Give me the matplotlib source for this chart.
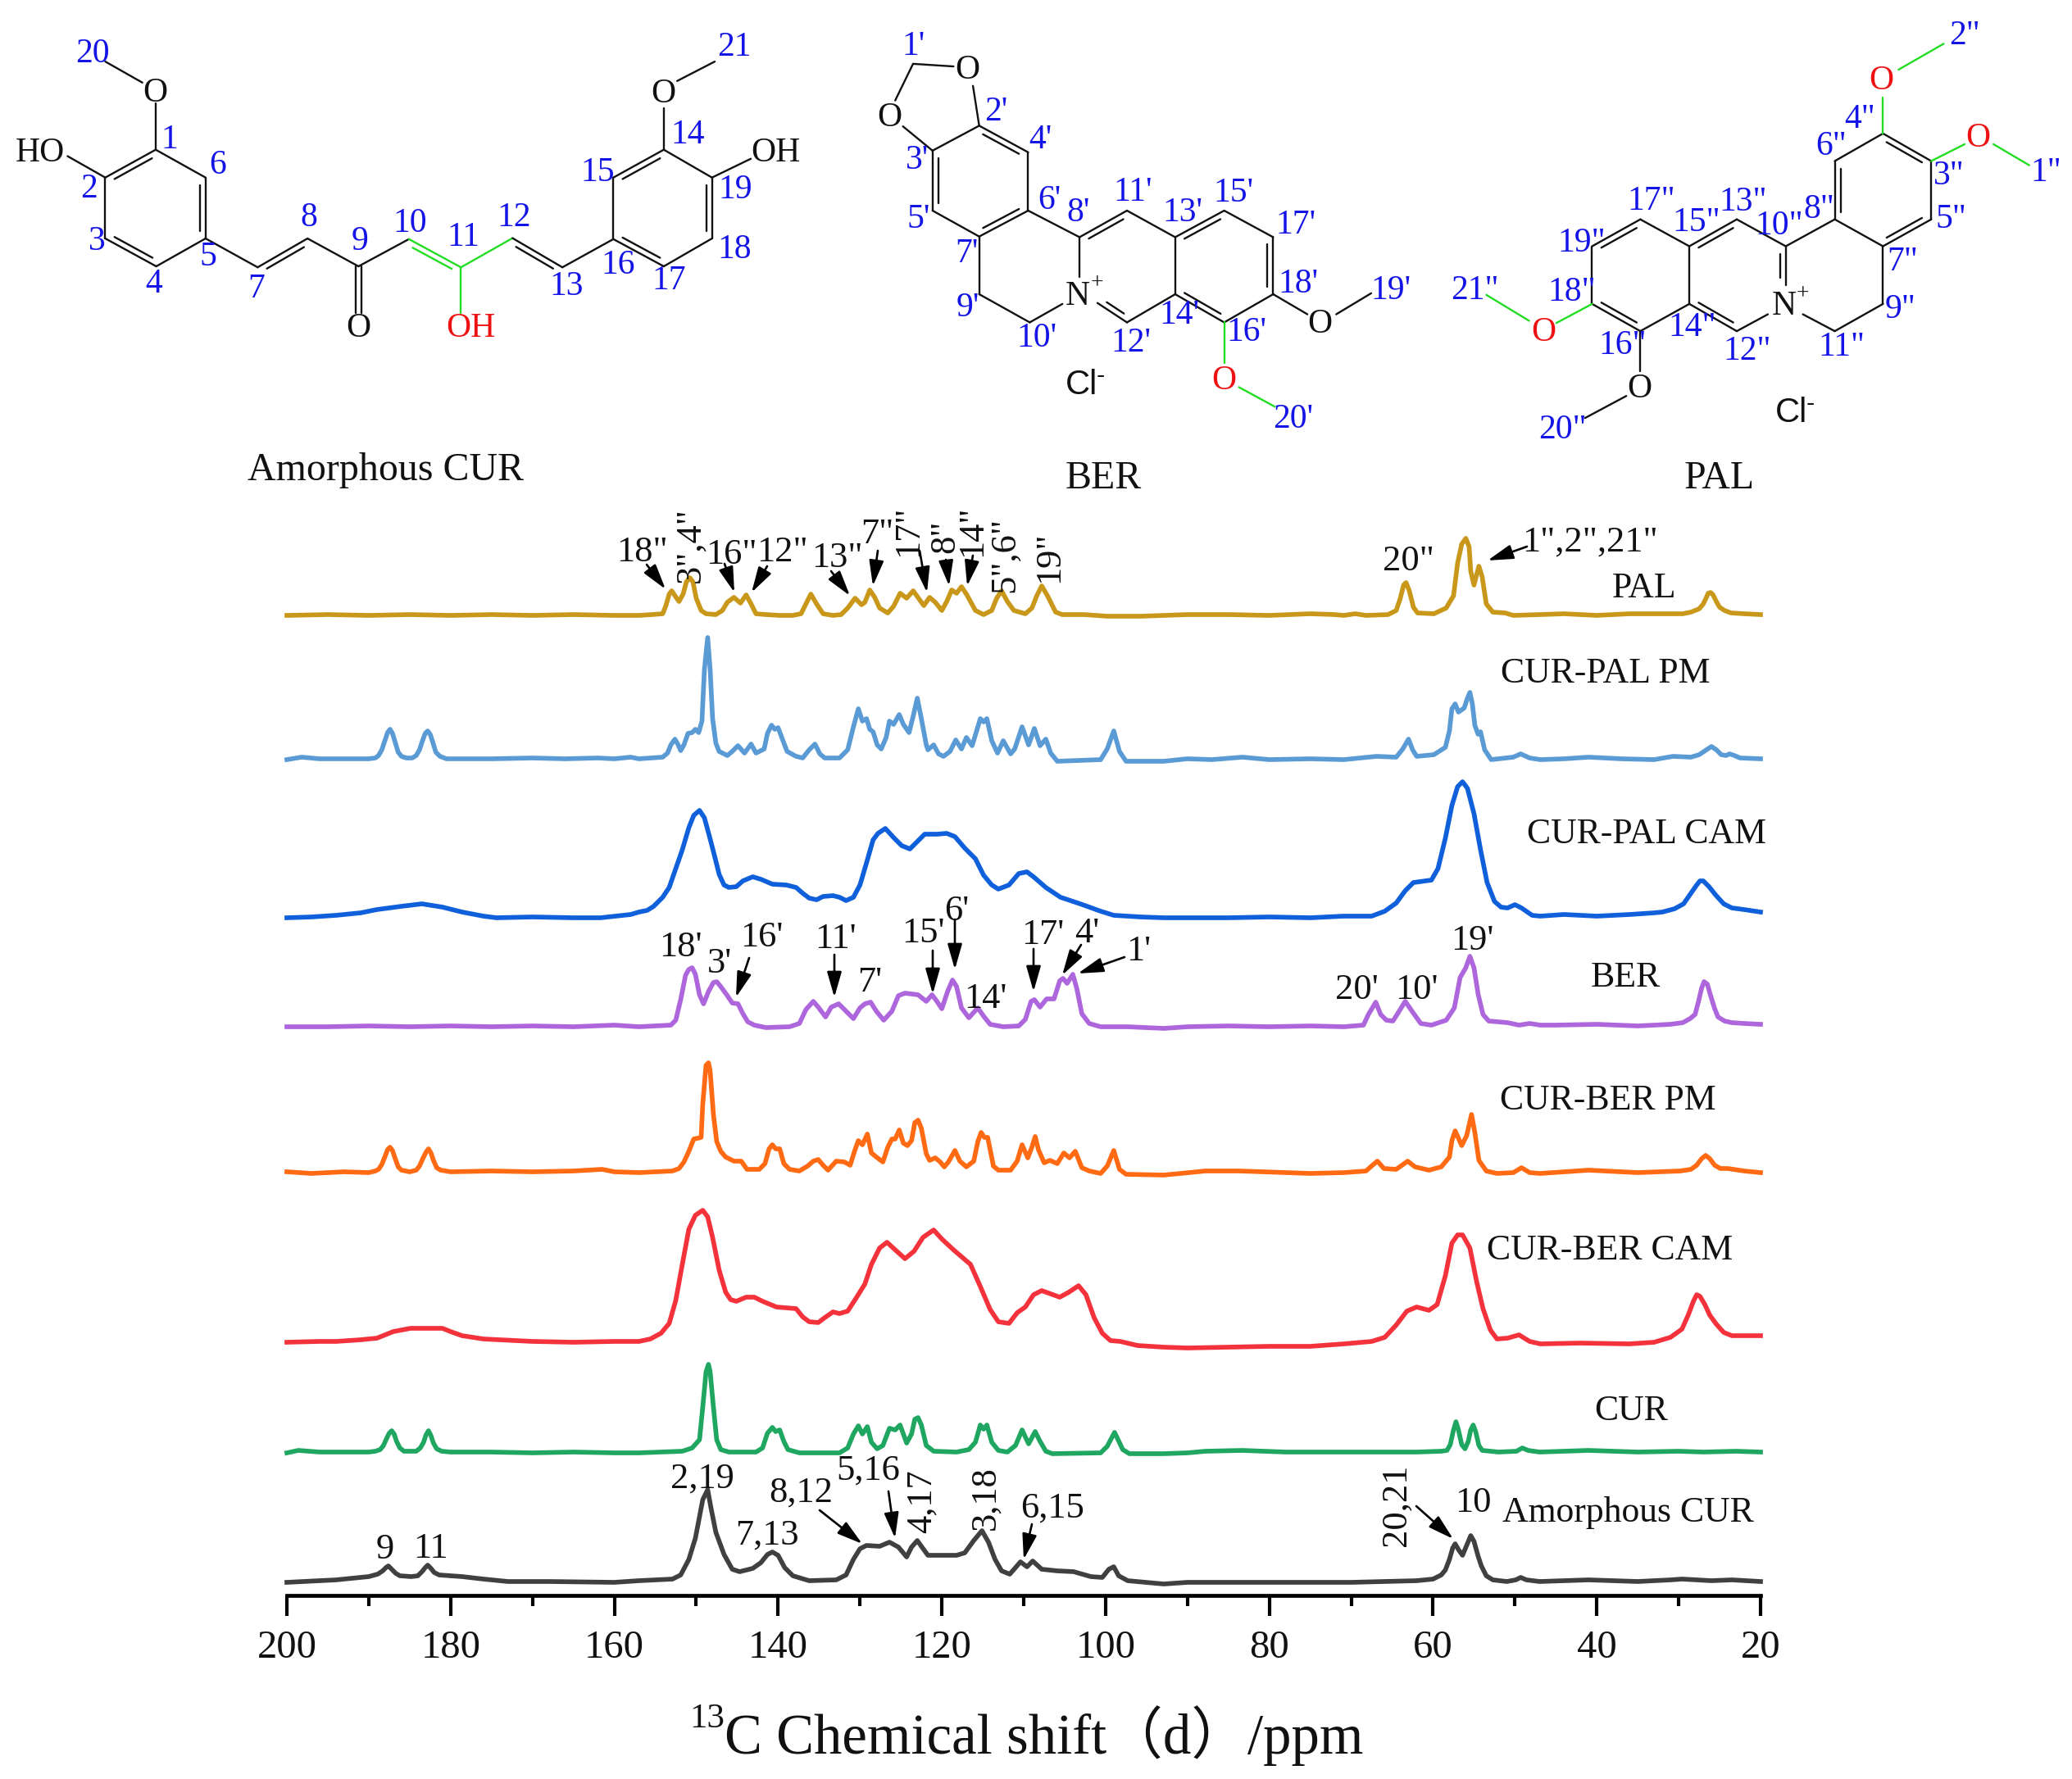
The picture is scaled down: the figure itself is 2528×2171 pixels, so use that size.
import matplotlib
matplotlib.use("Agg")
import matplotlib.pyplot as plt
import numpy as np

plt.rcParams['font.family'] = ['Liberation Serif', 'Noto Sans CJK SC', 'DejaVu Sans']

W, H = 2528, 2171
SERIF = ['Liberation Serif', 'Noto Sans CJK SC', 'DejaVu Sans']

# ---------- spectra: (ppm, intensity above the trace's own baseline) ----------
PAL = [(200,0),(195,1),(190,0),(185,1),(180,0),(175,1),(170,0),(165,1),(160,0),
 (157,0),(155.4,1),(154.1,2),(153.7,12),(153.3,26),(153,30),(152.6,24),(152.1,17),(151.6,26),(151.2,41),(150.8,46),(150.4,41),(150,21),(149.4,6),(148.8,2),(147.6,1),(146.8,6),(146.2,16),(145.4,22),(144.6,15),(143.9,25),(143.3,14),(142.7,2),(141.5,1),(139.8,0),(138.2,0),(137.2,2),(136.6,14),(136,26),(135.3,14),(134.5,2),(133.3,0),(132.3,1),(131.5,9),(130.6,21),(129.8,13),(129.4,16),(128.8,31),(128.2,22),(127.6,9),(126.6,3),(125.9,11),(125.1,27),(124.3,21),(123.5,30),(122.7,19),(122.2,12),(121.5,22),(120.8,16),(120,6),(119.4,17),(118.8,31),(118.2,27),(117.6,35),(117,26),(115.9,6),(114.9,1),(113.9,6),(113.3,21),(112.7,30),(112,17),(111.2,6),(109.8,2),(109,9),(108.4,24),(107.8,36),(107.1,24),(106.1,4),(105.3,1),(102.6,1),(99.8,-1),(95.7,-1),
 (90,1),(85,1),(80,0),(75,2),(72,1),(70.9,0),(69.5,2),(68.2,0),(65.5,1),(64.5,6),(64,21),(63.6,37),(63.3,40),(62.9,30),(62.4,10),(61.9,3),(59.9,2),(58.4,9),(57.5,24),(57,64),(56.5,87),(56,94),(55.6,84),(55.4,54),(55,37),(54.7,49),(54.4,60),(54,47),(53.5,14),(52.7,4),(51.2,3),(50.2,0),(46.9,1),
 (44,2),(40,0),(36,2),(32,2),(29.5,2),(28.5,4),(27.5,8),(27,14),(26.7,20),(26.4,27),(26.1,28),(25.8,25),(25.4,17),(25,10),(24.4,6),(23.6,3),(22,2),(20,1)]

CUR_PAL_PM = [(200,0),(198.2,3),(196,1),(194,1),(190,1),(189.2,2),(188.8,5),(188.4,12),(188,24),(187.7,33),(187.4,37),(187.1,32),(186.8,22),(186.4,9),(186,4),(185.4,2),(184.7,2),(184.2,5),(183.8,12),(183.4,24),(183.1,32),(182.8,35),(182.5,31),(182.2,22),(181.8,9),(181.3,4),(180.5,1),(179,1),(175,1),(170,2),(166,1),(162,2),(160,1),(158,3),
 (157,1),(154.1,3),(153.5,8),(153.1,18),(152.6,25),(152.2,18),(151.9,11),(151.5,18),(151,32),(150.5,33),(150.1,37),(149.7,33),(149.3,47),(149,110),(148.6,149),(148.3,110),(148,50),(147.6,20),(147.2,10),(146.2,5),(145.6,10),(144.9,17),(144.1,8),(143.3,19),(142.7,8),(141.7,13),(141.3,32),(140.8,42),(140.4,37),(140,39),(139.4,23),(138.9,10),(137.8,4),(137,2),(136.2,12),(135.5,19),(134.9,7),(134.3,2),(132.5,2),(131.5,12),(130.8,40),(130.2,62),(129.7,47),(129.2,50),(128.8,37),(128.4,34),(127.9,18),(127.4,13),(126.8,27),(126.4,47),(125.9,43),(125.2,55),(124.7,43),(124,33),(123.5,53),(123,75),(122.5,50),(121.9,18),(121.7,12),(121,18),(120.4,7),(119.8,4),(119,10),(118.3,24),(117.6,13),(117,27),(116.3,17),(115.7,37),(115.3,50),(114.9,46),(114.5,50),(113.9,23),(113.2,8),(112.5,23),(111.6,7),(111.1,13),(110.2,40),(109.4,18),(108.7,38),(108,17),(107.3,25),(106.7,8),(105.9,-2),(100.6,0),(99.8,13),(99,35),(98.3,10),(97.5,-2),(92.9,-2),
 (90,1),(87,0),(83.3,3),(80,0),(75,1),(70.9,0),(66.9,4),(64.5,3),(63.7,13),(63,25),(62.5,12),(62,4),(59.9,6),(58.5,15),(58,35),(57.7,62),(57.3,68),(56.9,58),(56.2,63),(55.8,75),(55.5,82),(55.2,68),(54.9,42),(54.5,31),(54.2,34),(53.7,12),(52.9,0),(50.2,3),(49.3,7),(48.2,2),(46.9,0),
 (44,1),(41,3),(37,1),(33,0),(30.7,4),(28.5,3),(27.5,6),(26.6,12),(26,16),(25.4,12),(24.8,6),(24.2,5),(23.8,7),(23.2,5),(22.5,2),(20,1)]

CUR_PAL_CAM = [(200,0),(197,1),(194,3),(191,6),(189,10),(186,14),(183.5,17),(181,13),(178.6,7),(176,2),(174.4,0),(170,1),(165,0),(161.7,0),(158,4),
 (157,7),(156,9),(155.2,14),(154.1,25),(153.3,37),(152.5,60),(151.7,83),(150.9,110),(150.3,125),(149.6,131),(149,122),(148.4,100),(147.8,77),(147.2,53),(146.6,40),(146,37),(145.1,38),(144.3,45),(143.1,50),(142.1,47),(140.7,41),(139,40),(137.8,37),(137,30),(136.2,24),(135.3,22),(134.5,26),(133.3,27),(132.5,25),(131.7,21),(130.8,25),(130,40),(129.2,67),(128.4,95),(127.8,103),(126.9,109),(125.9,98),(124.9,88),(123.9,84),(123.1,92),(122.1,102),(120.6,102),(119.4,103),(118.4,99),(117.2,85),(115.9,72),(114.9,52),(113.9,40),(113.1,35),(111.8,40),(110.6,54),(109.6,56),(108.8,50),(107.3,37),(105.5,25),(103.1,17),(100.6,8),(99,3),(95.7,1),(92.9,0),
 (90,0),(85,0),(80,1),(75,0),(70.9,2),(67.5,2),(65.9,8),(64.5,18),(63.4,33),(62.4,43),(60.2,46),(59.4,60),(58.5,97),(57.7,137),(57,160),(56.4,166),(55.8,158),(55,127),(54.2,83),(53.4,43),(52.5,20),(51.7,13),(50.9,12),(50,16),(49.2,12),(47.9,3),(46.9,2),
 (44,4),(40,2),(36,4),(33,6),(32,7),(30.5,11),(29.4,17),(28.5,30),(27.8,40),(27.4,45),(27,45),(26.3,38),(25.5,28),(24.5,17),(23.5,12),(22,10),(20,7)]

BER = [(200,0),(195,0),(190,1),(185,0),(180,1),(175,0),(170,1),(165,0),(160,2),
 (157,0),(153.1,2),(152.5,8),(151.9,33),(151.3,63),(150.9,70),(150.5,72),(150.1,64),(149.6,39),(149.1,28),(148.5,43),(147.9,54),(147.5,55),(147,49),(146.2,38),(145.6,29),(144.9,28),(144.3,16),(143.7,6),(142.9,2),(141.5,-1),(138.6,0),(137.4,4),(136.6,21),(135.7,31),(135.1,24),(134.2,12),(133.5,24),(132.6,28),(131.9,21),(130.8,10),(130,23),(129.4,28),(128.7,30),(128,19),(127.1,8),(126.1,19),(125.3,38),(124.5,41),(122.9,39),(121.9,31),(121.2,39),(120.6,31),(120,22),(119.3,43),(118.7,57),(118.2,49),(117.6,23),(116.7,11),(115.6,23),(114.9,13),(114.1,3),(112.5,0),(110.6,1),(109.8,9),(109.1,31),(108.7,33),(108,24),(107.2,34),(106.3,34),(105.6,56),(105.2,59),(104.7,53),(104,64),(103.5,46),(102.9,16),(102,4),(100.6,0),(97.3,0),(92.9,-2),
 (90,0),(85,1),(80,0),(75,1),(70.9,0),(68.5,2),(67.9,15),(67,30),(66.4,15),(65.7,8),(64.9,7),(64.2,18),(63.4,31),(62.5,18),(61.5,4),(60.2,2),(58.4,8),(57.4,23),(56.7,60),(56,72),(55.5,86),(55,72),(54.5,40),(53.9,15),(53.2,7),(50.9,5),(49.5,2),(48.2,4),(46.9,2),
 (45,2),(40,3),(35,1),(31,3),(29.5,5),(28.6,10),(28,15),(27.6,30),(27.2,47),(26.9,55),(26.5,52),(26.1,38),(25.6,22),(25.2,12),(24.4,7),(23.5,5),(22,4),(20,3)]

CUR_BER_PM = [(200,0),(197,-2),(193,0),(190,-1),(189.2,1),(188.8,3),(188.4,9),(188,19),(187.7,27),(187.4,30),(187.1,26),(186.8,17),(186.4,6),(186,2),(185,0),(184.2,2),(183.8,7),(183.4,16),(183,24),(182.7,28),(182.4,23),(182.1,14),(181.7,5),(181.2,2),(180,0),(175,1),(170,0),(165,1),(161.5,3),(160,0),
 (157,-1),(152.9,1),(152.1,4),(151.5,12),(150.9,25),(150.3,40),(149.8,41),(149.4,42),(149.2,83),(148.8,130),(148.5,133),(148.3,123),(147.9,70),(147.5,37),(147,25),(146.4,18),(145.4,13),(144.5,13),(143.8,3),(142.3,3),(141.6,10),(141.1,28),(140.7,33),(140.3,28),(139.8,28),(139.3,10),(138.6,3),(137.4,1),(136.4,7),(135.7,13),(135.1,15),(134.5,8),(133.9,2),(132.9,13),(131.9,12),(131.2,8),(130.6,27),(130.2,38),(129.7,33),(129.1,46),(128.6,23),(128,18),(127.2,12),(126.6,30),(126.1,40),(125.7,40),(125.2,51),(124.7,35),(124.2,32),(123.7,38),(123.3,60),(122.9,63),(122.5,53),(121.9,22),(121.5,14),(120.8,17),(120.2,12),(119.7,6),(119.2,12),(118.4,26),(117.8,13),(117,6),(116.1,13),(115.6,37),(115.2,48),(114.8,42),(114.4,42),(113.7,7),(113.1,2),(111.6,2),(110.8,13),(110.2,33),(109.5,17),(109,30),(108.6,43),(108.2,27),(107.5,11),(106.8,14),(105.9,10),(105.1,23),(104.4,17),(103.7,25),(102.9,5),(102,1),(100.6,-2),(99.8,7),(99,26),(98.3,3),(97.5,-3),(92.9,-4),
 (87.8,1),(83.7,1),(75,-2),(70.9,-1),(68.2,1),(67.4,8),(66.8,13),(66,4),(64.5,3),(63.1,13),(62.2,6),(60.5,2),(59,6),(58,18),(57.7,38),(57.3,50),(56.9,41),(56.5,32),(55.9,44),(55.3,70),(54.9,48),(54.4,14),(53.5,1),(52.2,-2),(50.2,-1),(49.2,5),(48.2,-1),(46.9,-2),
 (41,2),(35,-1),(29.8,1),(28.5,3),(27.8,8),(27.2,16),(26.7,20),(26.2,16),(25.6,8),(24.9,4),(24,4),(22,1),(20,-1)]

CUR_BER_CAM = [(200,0),(196,1),(194,1),(191,3),(189,5),(188,9),(187,13),(184.9,17),(183,17),(181,17),(180,13),(178.6,8),(176,4),(174,3),(170,1),(165,0),(160,1),
 (157,1),(155.6,4),(154.3,11),(153.3,23),(152.5,51),(151.7,95),(150.9,138),(150.1,155),(149.2,161),(148.6,153),(148,128),(147.2,88),(146.4,61),(145.8,52),(145.1,50),(143.9,55),(142.9,55),(141.9,50),(140.2,43),(137.8,41),(137,31),(136.2,25),(135.1,24),(134.3,30),(133.3,37),(132.5,35),(131.5,38),(130.4,55),(129.4,71),(128.6,95),(127.6,115),(126.7,122),(125.5,111),(124.5,102),(123.4,111),(122.3,128),(121,137),(120,126),(118.6,113),(116.5,95),(115.3,68),(114.1,40),(113.1,25),(111.8,23),(110.8,36),(109.8,43),(108.8,58),(107.8,63),(106.7,59),(105.6,55),(104.5,61),(103.3,69),(102.4,58),(101.4,30),(100.4,11),(99.4,2),(98.2,1),(96.1,-4),(92.9,-6),
 (90,-7),(85,-6),(80,-5),(75,-5),(70.9,-2),(67.5,1),(65.9,6),(64.5,21),(63.2,38),(62,43),(60.5,39),(59.5,46),(58.5,81),(57.7,121),(57,131),(56.4,131),(55.5,115),(54.7,75),(53.9,41),(53,15),(52.2,4),(50.9,5),(49.5,9),(48.2,1),(46.9,-2),
 (42,-1),(36,-2),(33,0),(31,6),(29.6,16),(28.8,34),(28.2,50),(27.8,58),(27.4,56),(26.8,46),(26.2,33),(25.4,22),(24.5,12),(23.5,8),(22,8),(20,8)]

CUR = [(200,0),(198.6,3),(196,1),(192,1),(190,1),(189.2,2),(188.6,4),(188.2,9),(187.8,18),(187.5,24),(187.2,27),(186.9,23),(186.6,14),(186.2,6),(185.7,2),(184.2,2),(183.7,6),(183.3,13),(183,22),(182.7,27),(182.4,21),(182.1,12),(181.7,5),(181.1,2),(180,1),(175,1),(170,0),(165,1),(160,0),
 (157,0),(151.7,2),(150.5,6),(149.6,16),(149.2,56),(148.8,99),(148.5,108),(148.3,99),(147.9,56),(147.5,16),(147,4),(146,1),(142.7,1),(141.9,6),(141.3,24),(140.7,31),(140.3,26),(139.8,28),(139.3,14),(138.8,4),(137.4,0),(132.5,0),(131.5,6),(130.8,23),(130.2,33),(129.7,23),(129.1,32),(128.6,13),(127.9,5),(127.2,9),(126.4,30),(125.7,28),(125.1,34),(124.3,12),(123.7,23),(123.3,41),(122.9,43),(122.5,34),(121.9,9),(121,2),(118.2,1),(116.7,4),(115.9,13),(115.3,34),(114.9,29),(114.5,34),(113.9,13),(113.1,3),(112,1),(111,9),(110.2,28),(109.4,11),(108.6,26),(108,14),(107.3,2),(106.5,-1),(100.6,0),(99.8,8),(98.9,25),(97.9,4),(97.1,-1),(92.9,-1),
 (90,0),(87.8,2),(83.3,3),(78,1),(70,1),(62,1),(59,2),(58.3,3),(57.9,10),(57.5,28),(57.2,38),(56.9,28),(56.5,10),(56.1,5),(55.7,14),(55.4,28),(55.1,34),(54.8,26),(54.4,9),(54,3),(52,1),(49.8,2),(49.1,6),(48.4,3),(47,1),(41,3),(35,1),(30,2),(27,1),(23,2),(20,1)]

AMORPHOUS = [(200,0),(194,3),(190,7),(188.9,10),(188.3,14),(187.9,18),(187.6,20),(187.2,16),(186.7,11),(186.2,8),(184.8,7),(184,8),(183.5,13),(183.1,18),(182.8,21),(182.4,17),(182,12),(181.4,9),(180,8),(178.6,7),(176,4),(173,1),(168,1),(160,0),
 (157,2),(152.9,4),(151.9,9),(150.9,28),(150.1,54),(149.2,101),(148.6,113),(148.2,91),(147.6,61),(146.6,34),(145.6,16),(144.7,13),(143.1,17),(142.1,24),(141.3,34),(140.7,37),(140,33),(139.2,18),(138.2,8),(136.2,2),(132.9,3),(131.7,9),(130.8,28),(130,41),(129.2,45),(127.6,44),(126.4,49),(125.3,43),(124.3,31),(123.7,43),(123,51),(122.5,44),(121.7,33),(118.2,33),(117.2,36),(116.1,51),(115.1,63),(114.3,49),(113.5,28),(112.7,14),(111.7,10),(111,18),(110.4,25),(109.6,19),(108.9,26),(107.8,16),(105.9,14),(103.9,13),(101.8,7),(100.4,6),(99.6,16),(99,19),(98.4,8),(97.3,2),(92.9,-2),
 (90,0),(80,0),(70,0),(62,2),(60,4),(59,9),(58.5,15),(58,28),(57.6,42),(57.3,47),(56.9,40),(56.4,33),(55.9,45),(55.4,57),(55,50),(54.5,32),(54.1,20),(53.5,8),(52.7,3),(51,1),(49.9,3),(49.3,6),(48.6,3),(47,1),(41,3),(35,1),(31,3),(29.6,4),(26,2),(23.5,3),(20,1)]

SERIES_NAMES = ['PAL', 'CUR-PAL PM', 'CUR-PAL CAM', 'BER', 'CUR-BER PM', 'CUR-BER CAM', 'CUR', 'Amorphous CUR']
SERIES = [PAL, CUR_PAL_PM, CUR_PAL_CAM, BER, CUR_BER_PM, CUR_BER_CAM, CUR, AMORPHOUS]
OFFSETS = [1196, 1020, 827, 694, 517, 309, 174, 16]
COLORS = ['#C9981A', '#5B9BD5', '#1060DC', '#AD66DC', '#FF6A13', '#F4323C', '#1FA660', '#404040']
SERIES_LABEL_POS = [(2006, 718), (1959, 822), (2009, 1018), (1983, 1193), (1962, 1343), (1964, 1526), (1990, 1722), (1986, 1846)]

MAJOR_TICKS = [200, 180, 160, 140, 120, 100, 80, 60, 40, 20]
MINOR_TICKS = [190, 170, 150, 130, 110, 90, 70, 50, 30]

# ---------- peak assignment labels: text, x, y, rotation ----------
PEAK_LABELS = [
    ('18"', 783, 674, 0), ('3",4"', 842, 665, 90), ('16"', 892, 677, 0), ('12"', 954, 674, 0),
    ('13"', 1021, 681, 0), ('7"', 1070, 652, 0), ('17"', 1108, 648, 90), ('8"', 1153, 655, 90),
    ('14"', 1186, 648, 90), ('5",6"', 1226, 677, 90), ('19"', 1280, 680, 90),
    ('20"', 1718, 685, 0), ('1",2",21"', 1940, 662, 0),
    ("18'", 830, 1156, 0), ("3'", 878, 1176, 0), ("16'", 929, 1144, 0), ("11'", 1019, 1146, 0),
    ("7'", 1061, 1199, 0), ("15'", 1126, 1139, 0), ("6'", 1167, 1112, 0), ("14'", 1202, 1219, 0),
    ("17'", 1272, 1141, 0), ("4'", 1326, 1139, 0), ("1'", 1389, 1161, 0),
    ("19'", 1796, 1148, 0), ("20'", 1655, 1208, 0), ("10'", 1728, 1208, 0),
    ('9', 470, 1891, 0), ('11', 525, 1890, 0), ('2,19', 857, 1805, 0), ('7,13', 936, 1874, 0),
    ('8,12', 977, 1822, 0), ('5,16', 1059, 1795, 0), ('4,17', 1125, 1832, 90), ('3,18', 1202, 1828, 90),
    ('6,15', 1284, 1841, 0), ('20,21', 1704, 1837, 90), ('10', 1797, 1834, 0),
]
ARROWS = [
    (789, 689, 812, 719), (884, 688, 896, 723), (936, 691, 917, 723), (1014, 697, 1037, 727),
    (1071, 672, 1065, 715), (1122, 672, 1131, 723), (1154, 683, 1158, 715), (1187, 678, 1180, 715),
    (1863, 667, 1815, 684),
    (914, 1169, 898, 1217), (1018, 1165, 1018, 1217), (1138, 1160, 1138, 1213), (1165, 1122, 1165, 1183),
    (1261, 1158, 1261, 1210), (1319, 1153, 1296, 1190), (1372, 1168, 1315, 1188),
    (1000, 1843, 1052, 1884), (1084, 1820, 1092, 1877), (1259, 1860, 1249, 1903), (1728, 1838, 1773, 1878),
]

# ---------- structures ----------
K, G = '#111111', '#22DD22'
# each bond: x1, y1, x2, y2, colour, (inner-line side point or None)
CUR_BONDS = [
    (281,462,371,548,K,None),(371,548,371,736,K,(280,640)),(371,736,282,822,K,None),(282,822,190,736,K,(280,640)),
    (190,736,190,548,K,None),(190,548,281,462,K,(280,640)),(281,462,281,318,K,None),(257,255,190,190,K,None),
    (122,482,190,548,K,None),(371,736,465,825,K,None),(465,825,555,736,K,(590,840)),(555,736,647,822,K,None),
    (642,822,642,965,K,None),(652,822,652,965,K,None),(647,822,738,738,K,None),(738,738,832,825,G,(720,830)),
    (832,825,832,965,G,None),(832,825,925,735,G,None),(925,735,1015,825,K,(900,850)),(1015,825,1107,738,K,None),
    (1107,738,1107,548,K,None),(1107,548,1198,462,K,(1198,640)),(1198,462,1285,548,K,None),(1285,548,1285,736,K,(1198,640)),
    (1285,736,1198,822,K,None),(1198,822,1107,738,K,(1198,640)),(1198,462,1198,335,K,None),(1222,250,1290,190,K,None),
    (1285,548,1355,490,K,None),
]
CUR_TEXT = [
    ('O',280,288,K),('HO',72,472,K),('O',647,1014,K),('OH',850,1014,'#EE1111'),('O',1197,291,K),('OH',1400,472,K),
]
CUR_NUMS = [('20',167,166),('1',306,431),('6',393,509),('2',160,584),('3',175,746),('5',375,793),('4',277,876),('7',462,891),
    ('8',558,671),('9',650,746),('10',740,689),('11',837,733),('12',927,673),('13',1022,884),('15',1078,533),('14',1242,416),
    ('19',1327,586),('18',1325,771),('16',1115,819),('17',1207,868),('21',1325,146)]

BER_BONDS = [
    (78,197,130,205,K,None),(78,197,55,310,K,None),(65,390,103,465,K,None),(155,265,163,388,K,None),
    (163,388,226,470,K,(165,560)),(226,470,226,650,K,None),(226,650,163,730,K,(165,560)),(163,730,103,650,K,None),
    (103,650,103,465,K,(165,560)),(103,465,163,388,K,None),(163,730,163,908,K,None),(163,908,228,995,K,None),
    (228,995,270,938,K,None),(226,650,292,732,K,None),(292,732,292,855,K,None),(315,935,353,995,K,(353,820)),
    (353,995,415,908,K,None),(292,732,353,650,K,(353,820)),(353,650,415,732,K,None),(415,732,415,908,K,None),
    (415,732,478,650,K,(478,820)),(478,650,541,732,K,None),(541,732,541,908,K,(478,820)),(541,908,478,995,K,None),
    (478,995,415,908,K,(478,820)),(478,995,478,1120,G,None),(497,1195,543,1255,G,None),(541,908,585,970,K,None),
    (622,970,667,905,K,None),
]
BER_TEXT = [('O',148,218,K),('O',48,364,K),('N',290,914,K),('O',478,1176,'#EE1111'),('O',601,1001,K)]
BER_NUMS = [("1'",78,144),("2'",185,346),("3'",83,496),("4'",242,431),("5'",85,678),("6'",253,618),("7'",147,784),("8'",290,658),
    ("9'",148,951),("10'",237,1043),("11'",360,593),("12'",358,1058),("13'",425,656),("14'",420,974),("15'",490,596),
    ("16'",507,1026),("17'",570,696),("18'",573,876),("19'",692,896),("20'",567,1294)]

PAL_BONDS = [
    (1325,412,1387,497,K,(1325,587)),(1387,497,1387,677,K,None),(1387,677,1325,760,K,(1325,587)),(1325,760,1263,677,K,None),
    (1263,677,1263,497,K,(1325,587)),(1263,497,1325,412,K,None),(1325,412,1325,300,G,None),(1345,215,1403,135,G,None),
    (1387,497,1430,445,G,None),(1467,445,1513,510,G,None),(1263,677,1200,760,K,None),(1325,760,1325,938,K,None),
    (1325,938,1263,1022,K,None),(1263,1022,1222,970,K,None),(1200,760,1200,880,K,(1137,850)),(1200,760,1137,677,K,None),
    (1137,677,1076,760,K,(1137,850)),(1076,760,1013,677,K,None),(1013,677,951,760,K,(1013,850)),(951,760,951,938,K,None),
    (951,938,1013,1022,K,(1013,850)),(1013,1022,1076,938,K,None),(1076,938,1076,760,K,None),(1076,938,1137,1022,K,(1137,850)),
    (1137,1022,1177,970,K,None),(951,938,905,997,G,None),(870,990,815,910,G,None),(1013,1022,1013,1145,K,None),
    (995,1222,942,1290,K,None),
]
PAL_TEXT = [('O',1323,249,'#EE1111'),('O',1447,426,'#EE1111'),('N',1198,944,K),('O',889,1026,'#EE1111'),('O',1012,1201,K)]
PAL_NUMS = [('2"',1430,111),('1"',1535,533),('4"',1295,368),('6"',1258,453),('3"',1410,543),('5"',1412,678),('7"',1350,809),
    ('8"',1243,646),('13"',1145,624),('17"',1027,621),('15"',1085,688),('10"',1192,698),('19"',938,751),('18"',925,903),
    ('21"',800,896),('16"',990,1066),('14"',1080,1011),('12"',1150,1084),('11"',1272,1071),('9"',1347,956),('20"',913,1326)]
CHARGES = [('+',315,875,K),('+',1222,908,K)]
CL_POS = [(295,1189),(1207,1274)]

# crop scale of the structure coordinates
SX1, SY1 = 1060/1568, 620/1568
SX2, SY2 = 1488/1568, 620/1568
OX2 = 1040

fig = plt.figure(figsize=(W/100, H/100), dpi=100, facecolor='white')

# ---------- spectra axes ----------
L, R, B, T = 350, 2148, 1947, 600
ax = fig.add_axes([L/W, (H-B)/H, (R-L)/W, (B-T)/H])
ax.set_xlim(200, 20)
ax.set_ylim(0, B-T)
ax.patch.set_alpha(0)
for s in ['top', 'left', 'right']:
    ax.spines[s].set_visible(False)
ax.spines['bottom'].set_linewidth(3.4)
ax.set_yticks([])
ax.set_xticks(MAJOR_TICKS)
ax.set_xticks(MINOR_TICKS, minor=True)
ax.tick_params(axis='x', which='major', length=18, width=3, pad=12, labelsize=35, labelcolor='#111111')
ax.tick_params(axis='x', which='minor', length=9, width=3)
for lab in ax.get_xticklabels():
    lab.set_fontfamily(SERIF)
for pts, off, c in zip(SERIES, OFFSETS, COLORS):
    xs, ys = zip(*pts)
    ax.plot(xs, np.asarray(ys) + off, color=c, lw=4.1, solid_joinstyle='round', clip_on=False)

# ---------- overlay in picture pixels ----------
ov = fig.add_axes([0, 0, 1, 1])
ov.set_xlim(0, W)
ov.set_ylim(H, 0)
ov.axis('off')
ov.patch.set_alpha(0)

for name, (x, y) in zip(SERIES_NAMES, SERIES_LABEL_POS):
    ov.text(x, y, name, ha='center', va='center', fontsize=31.5, family=SERIF, color='#111111')
for txt, x, y, r in PEAK_LABELS:
    ov.text(x, y, txt, ha='center', va='center', fontsize=32, rotation=r, family=SERIF, color='#111111')
for x1, y1, x2, y2 in ARROWS:
    ov.annotate('', xy=(x2, y2), xytext=(x1, y1),
                arrowprops=dict(arrowstyle='-|>,head_length=1.05,head_width=0.3', color='black', lw=1.9,
                                shrinkA=0, shrinkB=0, mutation_scale=18))

def draw_structure(bonds, texts, nums, sx, sy, ox):
    def m(a, b):
        return ox + a*sx, b*sy
    for x1, y1, x2, y2, c, side in bonds:
        p, q = m(x1, y1), m(x2, y2)
        ov.plot([p[0], q[0]], [p[1], q[1]], color=c, lw=1.7, solid_capstyle='round')
        if side is not None:
            s = np.array(m(*side))
            a, b = np.array(p), np.array(q)
            d = (b-a)/np.hypot(*(b-a))
            n = np.array([-d[1], d[0]])
            if np.dot(s-a, n) < 0:
                n = -n
            a2 = a + d*9 + n*7
            b2 = b - d*9 + n*7
            ov.plot([a2[0], b2[0]], [a2[1], b2[1]], color=c, lw=1.7, solid_capstyle='round')
    for t, a, b, c in texts:
        x, y = m(a, b)
        ov.text(x, y, t, ha='center', va='center', fontsize=30, family=SERIF, color=c)
    for t, a, b in nums:
        x, y = m(a, b)
        ov.text(x, y, t, ha='center', va='center', fontsize=30, family=SERIF, color='#1414E6')

draw_structure(CUR_BONDS, CUR_TEXT, CUR_NUMS, SX1, SY1, 0)
draw_structure(BER_BONDS, BER_TEXT, BER_NUMS, SX2, SY2, OX2)
draw_structure(PAL_BONDS, PAL_TEXT, PAL_NUMS, SX2, SY2, OX2)
for t, a, b, c in CHARGES:
    ov.text(OX2 + a*SX2, b*SY2, t, ha='center', va='center', fontsize=20, family=SERIF, color=c)
for a, b in CL_POS:
    ov.text(OX2 + a*SX2, b*SY2, 'Cl', ha='center', va='center', fontsize=30, family='Liberation Sans', color=K)
    ov.text(OX2 + a*SX2 + 23, b*SY2 - 11, '-', ha='center', va='center', fontsize=22, family='Liberation Sans', color=K)

ov.text(470, 574, 'Amorphous CUR', ha='center', va='center', fontsize=34.5, family=SERIF, color='#111111')
ov.text(1346, 584, 'BER', ha='center', va='center', fontsize=34.5, family=SERIF, color='#111111')
ov.text(2098, 584, 'PAL', ha='center', va='center', fontsize=34.5, family=SERIF, color='#111111')

# x axis title
ov.text(841, 2098, '13', ha='left', va='center', fontsize=31, family=SERIF, color='#111111')
ov.text(884, 2118, 'C Chemical shift（d）/ppm', ha='left', va='center', fontsize=49.5, family=SERIF, color='#111111')

fig.savefig('out.png', dpi=100, facecolor='white')
